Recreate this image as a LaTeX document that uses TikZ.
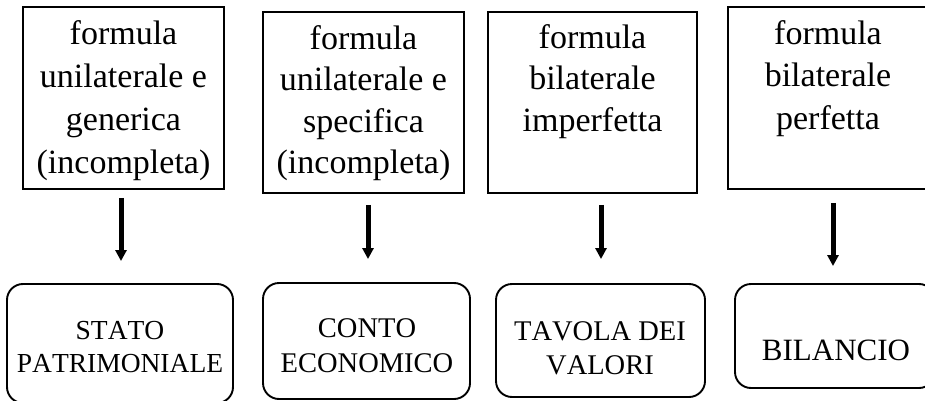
\documentclass[tikz,border=0pt]{standalone}
\usepackage{fontspec}
\setmainfont{Liberation Serif}
\newfontfamily\nokernfont[Kerning=Off]{Liberation Serif}
\usetikzlibrary{arrows.meta}
\tikzset{
  topbox/.style={draw, line width=1.9pt, rectangle, inner sep=0pt},
  botbox/.style={draw, line width=1.9pt, rectangle, rounded corners=16pt, inner sep=0pt},
  ttext/.style={align=center, inner sep=0pt, anchor=north, font=\fontsize{34}{43}\selectfont},
  btext/.style={align=center, inner sep=0pt, anchor=north, font=\nokernfont\fontsize{28.5}{34}\selectfont},
  arr/.style={line width=5pt, -{Triangle[width=11pt,length=11pt]}}
}
\begin{document}
\begin{tikzpicture}[x=1pt, y=-1pt]
\useasboundingbox (0,0) rectangle (925,401);
\clip (0,0) rectangle (925,401);
% top boxes
\node[topbox, minimum width=201pt, minimum height=182pt] (b1) at (123.5,98) {};
\node[topbox, minimum width=201pt, minimum height=181pt] (b2) at (363.5,102.5) {};
\node[topbox, minimum width=209pt, minimum height=181pt] (b3) at (592.5,102.5) {};
\node[topbox, minimum width=200pt, minimum height=182pt] (b4) at (828,98) {};
% top texts
\node[ttext] (t1) at (123.5,20) {formula\\unilaterale e\\generica\\(incompleta)};
\node[ttext, font=\fontsize{34}{41.5}\selectfont] (t2) at (363.5,25) {formula\\unilaterale e\\specifica\\(incompleta)};
\node[ttext, font=\fontsize{34}{41.5}\selectfont] (t3) at (592.5,24) {formula\\bilaterale\\imperfetta};
\node[ttext, font=\fontsize{34}{42.5}\selectfont] (t4) at (828,20) {formula\\bilaterale\\perfetta};
% bottom boxes
\node[botbox, minimum width=226pt, minimum height=119pt] (r1) at (120,343.5) {};
\node[botbox, minimum width=207pt, minimum height=116pt] (r2) at (366.5,341) {};
\node[botbox, minimum width=209pt, minimum height=113pt] (r3) at (600.5,340.5) {};
\node[botbox, minimum width=200pt, minimum height=104pt] (r4) at (835,336) {};
% bottom texts
\node[btext, font=\nokernfont\fontsize{27.5}{33}\selectfont] (s1) at (120,321) {STATO\\PATRIMONIALE};
\node[btext, font=\nokernfont\fontsize{28.5}{35}\selectfont] (s2) at (367,318) {CONTO\\ECONOMICO};
\node[btext] (s3) at (600,321) {TAVOLA DEI\\VALORI};
\node[btext, font=\nokernfont\fontsize{31}{36}\selectfont] (s4) at (836,339.5) {BILANCIO};
% arrows
\draw[arr] ([xshift=-2.5pt,yshift=-8pt]b1.south) -- ([xshift=-2.5pt,yshift=22pt]b1.south |- r1.north);
\draw[arr] ([xshift=4.5pt,yshift=-11pt]b2.south) -- ([xshift=4.5pt,yshift=23pt]b2.south |- r2.north);
\draw[arr] ([xshift=8.5pt,yshift=-11pt]b3.south) -- ([xshift=8.5pt,yshift=24pt]b3.south |- r3.north);
\draw[arr] ([xshift=5pt,yshift=-13pt]b4.south) -- ([xshift=5pt,yshift=17pt]b4.south |- r4.north);
\end{tikzpicture}
\end{document}
